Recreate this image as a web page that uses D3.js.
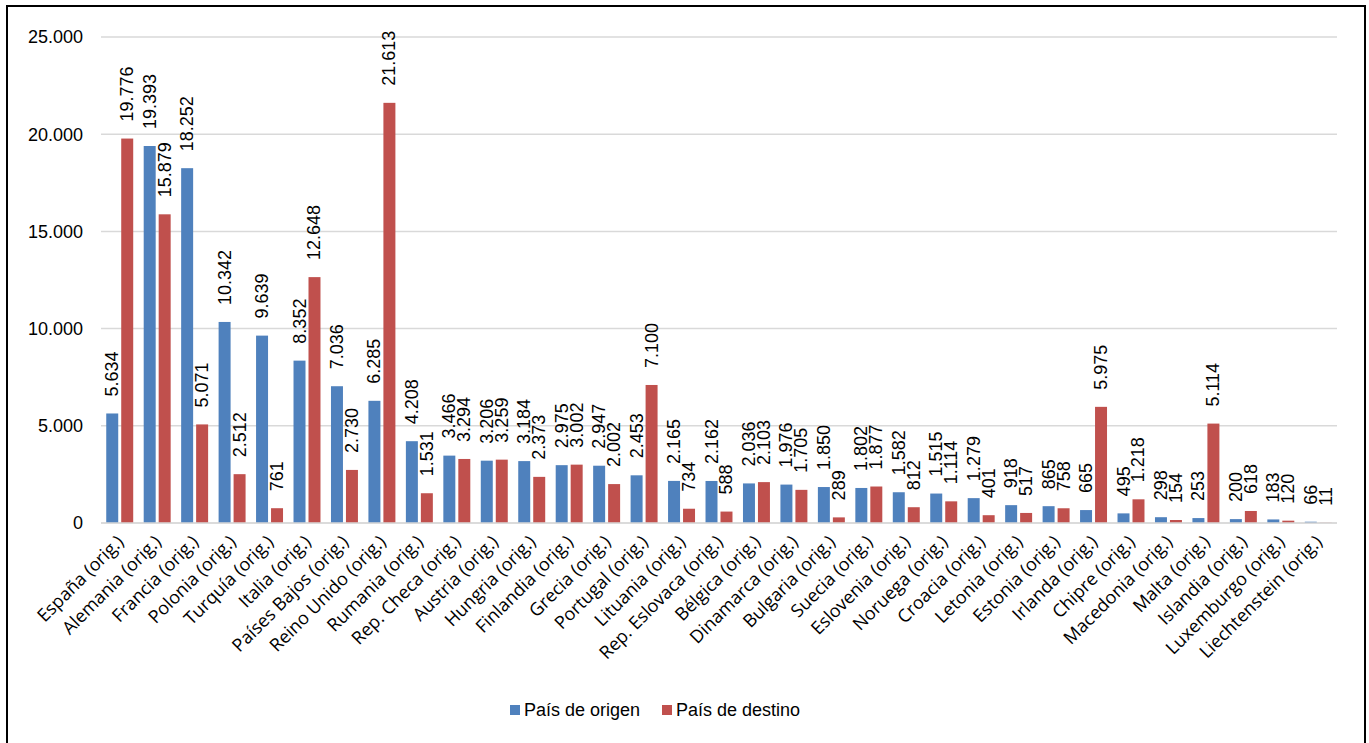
<!DOCTYPE html>
<html><head><meta charset="utf-8">
<script src="https://cdn.jsdelivr.net/npm/d3@7"></script>
<style>body{margin:0;background:#fff;}svg{display:block;}</style>
</head><body>
<svg id="chart" width="1369" height="743"></svg>
<script>
const categories = ["España (orig.)","Alemania (orig.)","Francia (orig.)","Polonia (orig.)","Turquía (orig.)","Italia (orig.)","Países Bajos (orig.)","Reino Unido (orig.)","Rumania (orig.)","Rep. Checa (orig.)","Austria  (orig.)","Hungria (orig.)","Finlandia (orig.)","Grecia (orig.)","Portugal (orig.)","Lituania (orig.)","Rep. Eslovaca (orig.)","Bélgica (orig.)","Dinamarca (orig.)","Bulgaria (orig.)","Suecia (orig.)","Eslovenia (orig.)","Noruega (orig.)","Croacia (orig.)","Letonia (orig.)","Estonia (orig.)","Irlanda (orig.)","Chipre (orig.)","Macedonia (orig.)","Malta (orig.)","Islandia (orig.)","Luxemburgo (orig.)","Liechtenstein (orig.)"];
const origen = [5634,19393,18252,10342,9639,8352,7036,6285,4208,3466,3206,3184,2975,2947,2453,2165,2162,2036,1976,1850,1802,1582,1515,1279,918,865,665,495,298,253,200,183,66];
const destino = [19776,15879,5071,2512,761,12648,2730,21613,1531,3294,3259,2373,3002,2002,7100,734,588,2103,1705,289,1877,812,1114,401,517,758,5975,1218,154,5114,618,120,11];
const seriesNames = ["País de origen","País de destino"];
const seriesColors = ["#4F81BD","#C0504D"];
const yTicks = [0,5000,10000,15000,20000,25000];

const svg = d3.select("#chart");
const mLeft = 101, mRight = 1337, mTop = 37, mBottom = 523;
const fmt = v => d3.format(",")(v).replace(/,/g,".");

svg.append("rect").attr("x",7).attr("y",6).attr("width",1358).attr("height",745)
  .attr("fill","none").attr("stroke","#000").attr("stroke-width",2);

const x = d3.scaleBand().domain(categories).range([mLeft,mRight]).padding(0);
const bw = x.bandwidth();
const x1 = d3.scaleBand().domain([0,1]).range([0.14*bw,0.86*bw]).paddingInner(0.2);
const y = d3.scaleLinear().domain([0,25000]).range([mBottom,mTop]);

svg.append("g").selectAll("line").data(yTicks).join("line")
  .attr("x1",mLeft).attr("x2",mRight).attr("y1",d=>y(d)).attr("y2",d=>y(d))
  .attr("stroke","#d9d9d9").attr("stroke-width",1.5);

svg.append("g").selectAll("text").data(yTicks).join("text")
  .attr("x",83).attr("y",d=>y(d)).attr("dy","0.36em").attr("text-anchor","end")
  .attr("font-family","Liberation Sans, Arial, sans-serif").attr("font-size",18).attr("fill","#000")
  .text(d=>fmt(d));

const data = categories.map((c,i)=>({c, vals:[origen[i],destino[i]]}));
const groups = svg.append("g").selectAll("g").data(data).join("g")
  .attr("transform",d=>`translate(${x(d.c)},0)`);
groups.selectAll("rect").data(d=>d.vals.map((v,k)=>({v,k}))).join("rect")
  .attr("x",d=>x1(d.k)).attr("width",x1.bandwidth())
  .attr("y",d=>y(d.v)).attr("height",d=>mBottom-y(d.v))
  .attr("fill",d=>seriesColors[d.k]);
groups.selectAll("text").data(d=>d.vals.map((v,k)=>({v,k}))).join("text")
  .attr("transform",d=>`translate(${x1(d.k)+x1.bandwidth()/2+6},${y(d.v)-17}) rotate(-90)`)
  .attr("font-family","Liberation Sans, Arial, sans-serif").attr("font-size",18).attr("fill","#000")
  .text(d=>fmt(d.v));

svg.append("line").attr("x1",mLeft).attr("x2",mRight).attr("y1",mBottom).attr("y2",mBottom)
  .attr("stroke","#d9d9d9").attr("stroke-width",1.5);

svg.append("g").selectAll("text").data(categories).join("text")
  .attr("transform",d=>`translate(${x(d)+bw/2+5},${mBottom+20}) rotate(-45)`)
  .attr("text-anchor","end")
  .attr("font-family","Open Sans, Lato, sans-serif").attr("font-size",18).attr("fill","#000")
  .text(d=>d);

const leg = svg.append("g");
const legX = [510,662];
seriesNames.forEach((n,k)=>{
  leg.append("rect").attr("x",legX[k]).attr("y",705).attr("width",10).attr("height",10).attr("fill",seriesColors[k]);
  leg.append("text").attr("x",legX[k]+14).attr("y",710).attr("dy","0.36em")
    .attr("font-family","Liberation Sans, Arial, sans-serif").attr("font-size",18).attr("fill","#000").text(n);
});
</script>
</body></html>
